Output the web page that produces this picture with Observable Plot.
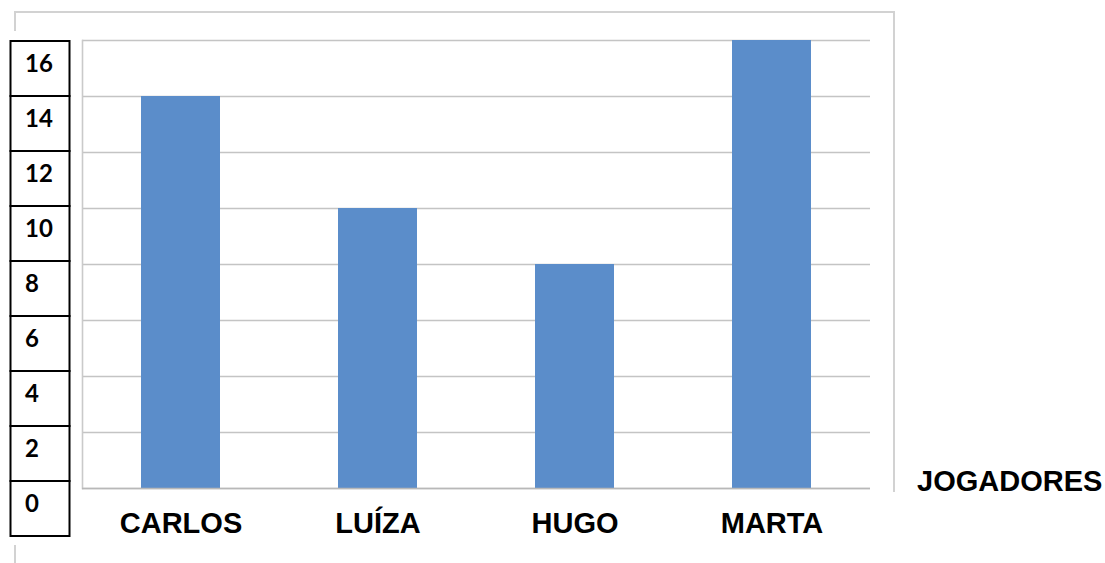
<!DOCTYPE html>
<html>
<head>
<meta charset="utf-8">
<script src="https://cdn.jsdelivr.net/npm/d3@7"></script>
<script src="https://cdn.jsdelivr.net/npm/@observablehq/plot@0.6"></script>
<style>
  html, body { margin: 0; padding: 0; background: #fff; }
  #wrap { position: relative; width: 1105px; height: 563px; background: #fff; overflow: hidden; }
  .ln { position: absolute; background: #d2d2d2; }
  #main { position: absolute; left: 0; top: 0; }
  #boxes { position: absolute; left: 9px; top: 39.2px; }
  #xlabel { position: absolute; left: 917px; top: 467px; font: bold 29px "Liberation Sans", Arial, sans-serif; line-height: 29px; color: #000; white-space: nowrap; }
</style>
</head>
<body>
<div id="wrap">
  <div class="ln" style="left:15px;top:11px;width:880px;height:2px;"></div>
  <div class="ln" style="left:893px;top:11px;width:2px;height:481px;"></div>
  <div class="ln" style="left:14px;top:11px;width:2px;height:20px;"></div>
  <div class="ln" style="left:14px;top:545px;width:2px;height:18px;"></div>
  <div id="main"></div>
  <div id="boxes"></div>
  <div id="xlabel">JOGADORES</div>
</div>
<script>
const jogadores = ["CARLOS", "LUÍZA", "HUGO", "MARTA"];
const valores = [14, 10, 8, 16];
const yTicks = [0, 2, 4, 6, 8, 10, 12, 14, 16];
const yTickLabels = ["16", "14", "12", "10", "8", "6", "4", "2", "0"];

const data = jogadores.map((j, i) => ({jogador: j, valor: valores[i]}));

const main = Plot.plot({
  width: 1105,
  height: 563,
  marginLeft: 82,
  marginRight: 235,
  marginTop: 40,
  marginBottom: 75,
  style: {background: "transparent", overflow: "visible"},
  x: {domain: jogadores, paddingInner: 0.6, paddingOuter: 0.3, axis: null},
  y: {domain: [0, 16], axis: null},
  marks: [
    Plot.gridY(yTicks, {stroke: "#c4c4c4", strokeOpacity: 1, strokeWidth: 1.6}),
    Plot.frame({anchor: "left", stroke: "#cacaca", strokeWidth: 1.6}),
    Plot.barY(data, {x: "jogador", y: "valor", fill: "#5b8dca"}),
    Plot.ruleY([0], {stroke: "#b8b8b8", strokeWidth: 1.6}),
    Plot.text(jogadores, {
      x: d => d,
      text: d => d,
      frameAnchor: "bottom",
      lineAnchor: "bottom",
      dy: 44,
      fontSize: 29,
      fontWeight: "bold",
      fontFamily: "Liberation Sans, Arial, sans-serif",
      fill: "#000"
    })
  ]
});
document.getElementById("main").appendChild(main);

const boxes = Plot.plot({
  width: 62,
  height: 498,
  margin: 1.5,
  style: {background: "transparent", overflow: "visible"},
  x: {axis: null},
  y: {domain: yTickLabels, padding: 0, axis: null},
  marks: [
    Plot.cell(yTickLabels, {y: d => d, fill: "#fff", stroke: "#000", strokeWidth: 2}),
    Plot.text(yTickLabels, {
      y: d => d,
      text: d => d,
      frameAnchor: "left",
      textAnchor: "start",
      dx: 14,
      dy: -5,
      fontSize: 24,
      fontWeight: "bold",
      fontFamily: "Lato, Open Sans, sans-serif",
      fill: "#000"
    })
  ]
});
document.getElementById("boxes").appendChild(boxes);
</script>
</body>
</html>
